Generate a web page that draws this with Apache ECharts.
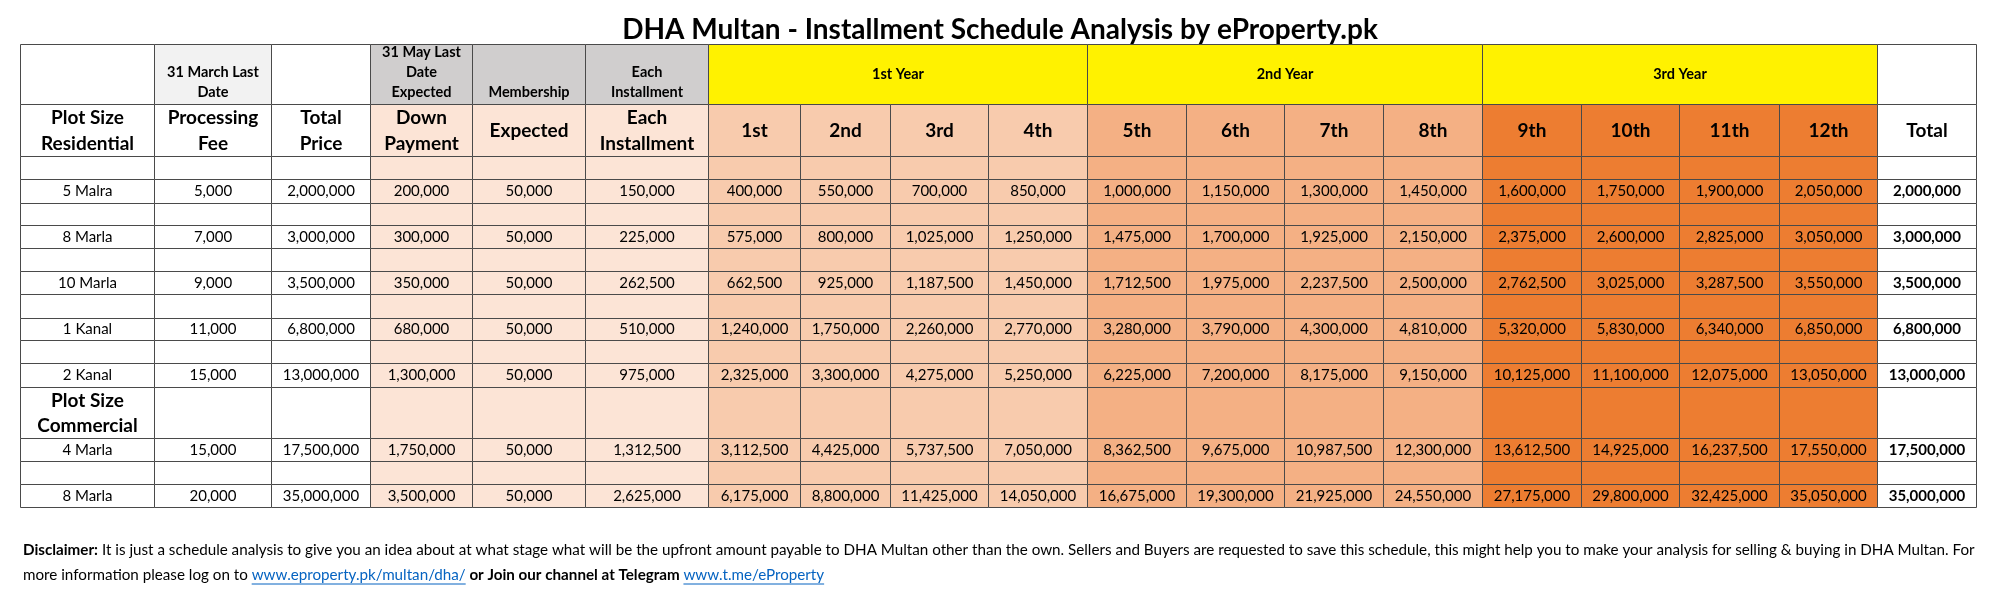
<!DOCTYPE html>
<html><head><meta charset="utf-8">
<script src="https://cdn.jsdelivr.net/npm/echarts@6/dist/echarts.min.js"></script>
<style>html,body{margin:0;padding:0;background:#fff}#c{width:2000px;height:595px}</style>
</head><body><div id="c"></div>
<script>
// ---------- data ----------
const titleText = 'DHA Multan - Installment Schedule Analysis by eProperty.pk';
const topHeaders = ['', '31 March Last\nDate', '', '31 May Last\nDate\nExpected', 'Membership', 'Each\nInstallment'];
const yearGroups = ['1st Year', '2nd Year', '3rd Year'];
const columnHeaders = ['Plot Size\nResidential','Processing\nFee','Total\nPrice','Down\nPayment','Expected','Each\nInstallment','1st','2nd','3rd','4th','5th','6th','7th','8th','9th','10th','11th','12th','Total'];
const sectionLabel = 'Plot Size\nCommercial';
const plotSizes = ['5 Malra','8 Marla','10 Marla','1 Kanal','2 Kanal','4 Marla','8 Marla'];
const processingFee = [5000,7000,9000,11000,15000,15000,20000];
const totalPrice = [2000000,3000000,3500000,6800000,13000000,17500000,35000000];
const downPayment = [200000,300000,350000,680000,1300000,1750000,3500000];
const membership = [50000,50000,50000,50000,50000,50000,50000];
const eachInstallment = [150000,225000,262500,510000,975000,1312500,2625000];
const inst5Malra = [400000,550000,700000,850000,1000000,1150000,1300000,1450000,1600000,1750000,1900000,2050000];
const inst8Marla = [575000,800000,1025000,1250000,1475000,1700000,1925000,2150000,2375000,2600000,2825000,3050000];
const inst10Marla = [662500,925000,1187500,1450000,1712500,1975000,2237500,2500000,2762500,3025000,3287500,3550000];
const inst1Kanal = [1240000,1750000,2260000,2770000,3280000,3790000,4300000,4810000,5320000,5830000,6340000,6850000];
const inst2Kanal = [2325000,3300000,4275000,5250000,6225000,7200000,8175000,9150000,10125000,11100000,12075000,13050000];
const inst4MarlaCom = [3112500,4425000,5737500,7050000,8362500,9675000,10987500,12300000,13612500,14925000,16237500,17550000];
const inst8MarlaCom = [6175000,8800000,11425000,14050000,16675000,19300000,21925000,24550000,27175000,29800000,32425000,35050000];
const totals = [2000000,3000000,3500000,6800000,13000000,17500000,35000000];
const disclaimerLine1 = 'It is just a schedule analysis to give you an idea about at what stage what will be the upfront amount payable to DHA Multan other than the own. Sellers and Buyers are requested to save this schedule, this might help you to make your analysis for selling & buying in DHA Multan. For';
const disclaimerLine2a = 'more information please log on to ';
const link1 = 'www.eproperty.pk/multan/dha/';
const disclaimerLine2b = ' or Join our channel at Telegram ';
const link2 = 'www.t.me/eProperty';

// ---------- layout / style ----------
const installmentRows = [inst5Malra, inst8Marla, inst10Marla, inst1Kanal, inst2Kanal, inst4MarlaCom, inst8MarlaCom];
const FONT = 'Lato';
const colW = [134,117,99,102,113,123,92,90,98,99,99,98,99,99,99,98,100,98,99];
const rowKinds = ['h1','h2','blank',0,'blank',1,'blank',2,'blank',3,'blank',4,'section',5,'blank',6];
const rowH = [60,52,23,24,22,23,23,23,24,22,23,24,51,23,23,23];
const colEdges = [0]; colW.forEach(w => colEdges.push(colEdges[colEdges.length-1] + w));
const rowEdges = [0]; rowH.forEach(h => rowEdges.push(rowEdges[rowEdges.length-1] + h));
const bodyFill = i => i <= 2 ? '#ffffff' : i <= 5 ? '#fce4d6' : i <= 9 ? '#f8cbad' : i <= 13 ? '#f4b084' : i <= 17 ? '#ed7d31' : '#ffffff';
const head1Fill = ['#ffffff','#f2f2f2','#ffffff','#d0cece','#d0cece','#d0cece'];
const fmt = n => n.toLocaleString('en-US');

const cells = [];
function addCell(c0, c1, r, text, fill, st) {
  cells.push({ value: [colEdges[c0], colEdges[c1], rowEdges[r], rowEdges[r+1]], text: text, fill: fill, st: st || {} });
}
rowKinds.forEach((kind, r) => {
  if (kind === 'h1') {
    topHeaders.forEach((t, i) => addCell(i, i+1, r, t, head1Fill[i], { size: 14.5, weight: 'bold', lh: 20, va: 'bottom' }));
    yearGroups.forEach((t, g) => addCell(6 + g*4, 10 + g*4, r, t, '#fff200', { size: 14.5, weight: 'bold', lh: 20 }));
    addCell(18, 19, r, '', '#ffffff');
  } else if (kind === 'h2') {
    columnHeaders.forEach((t, i) => addCell(i, i+1, r, t, bodyFill(i), { size: 19, weight: 'bold', lh: 26 }));
  } else if (kind === 'blank') {
    for (let i = 0; i < 19; i++) addCell(i, i+1, r, '', bodyFill(i));
  } else if (kind === 'section') {
    addCell(0, 1, r, sectionLabel, bodyFill(0), { size: 19, weight: 'bold', lh: 25 });
    for (let i = 1; i < 19; i++) addCell(i, i+1, r, '', bodyFill(i));
  } else {
    const k = kind;
    const vals = [plotSizes[k], fmt(processingFee[k]), fmt(totalPrice[k]), fmt(downPayment[k]), fmt(membership[k]), fmt(eachInstallment[k])]
      .concat(installmentRows[k].map(fmt)).concat([fmt(totals[k])]);
    vals.forEach((t, i) => addCell(i, i+1, r, t, bodyFill(i), { size: 15, weight: i === 18 ? 'bold' : 'normal', lh: 18 }));
  }
});

const chart = echarts.init(document.getElementById('c'), null, { renderer: 'canvas' });

// text measuring for underline placement
const mctx = document.createElement('canvas').getContext('2d');
function tw(str, weight, size) { mctx.font = (weight || 'normal') + ' ' + size + 'px ' + FONT; return mctx.measureText(str).width; }
const DS = 15.2;
const discLeft = 23;
const l2y = 575;
const u1x = discLeft + tw(disclaimerLine2a, 'normal', DS);
const u1w = tw(link1, 'normal', DS);
const u2x = u1x + u1w + tw(disclaimerLine2b, 'bold', DS);
const u2w = tw(link2, 'normal', DS);

chart.setOption({
  animation: false,
  title: { text: titleText, left: 'center', top: 11, textStyle: { fontFamily: FONT, fontWeight: 'bold', fontSize: 28, color: '#000' } },
  grid: { left: 20, right: 24, top: 44, bottom: 88 },
  xAxis: { type: 'value', min: 0, max: colEdges[colEdges.length-1], show: false },
  yAxis: { type: 'value', min: 0, max: rowEdges[rowEdges.length-1], inverse: true, show: false },
  series: [{
    type: 'custom',
    coordinateSystem: 'cartesian2d',
    data: cells.map(c => c.value),
    renderItem: function (params, api) {
      const c = cells[params.dataIndex];
      const p0 = api.coord([api.value(0), api.value(2)]);
      const p1 = api.coord([api.value(1), api.value(3)]);
      const x = Math.round(p0[0]) + 0.5, y = Math.round(p0[1]) + 0.5;
      const w = Math.round(p1[0]) - Math.round(p0[0]), h = Math.round(p1[1]) - Math.round(p0[1]);
      const children = [{ type: 'rect', shape: { x: x, y: y, width: w, height: h }, style: { fill: c.fill, stroke: '#4a4a4a', lineWidth: 1 } }];
      if (c.text) {
        const st = c.st;
        children.push({ type: 'text', style: {
          text: c.text, x: x + w / 2, y: st.va === 'bottom' ? y + h - 2 : y + h / 2,
          align: 'center', verticalAlign: st.va || 'middle',
          fontFamily: FONT, fontSize: st.size, fontWeight: st.weight, lineHeight: st.lh, fill: '#000'
        } });
      }
      return { type: 'group', children: children };
    }
  }],
  graphic: [
    { type: 'text', x: discLeft, y: 550, style: {
      text: '{b|Disclaimer:} ' + disclaimerLine1, verticalAlign: 'middle', fontFamily: FONT, fontSize: DS, fill: '#000',
      rich: { b: { fontFamily: FONT, fontSize: DS, fontWeight: 'bold', fill: '#000' } } } },
    { type: 'text', x: discLeft, y: l2y, style: {
      text: disclaimerLine2a + '{l|' + link1 + '}{b|' + disclaimerLine2b + '}{l|' + link2 + '}', verticalAlign: 'middle', fontFamily: FONT, fontSize: DS, fill: '#000',
      rich: { b: { fontFamily: FONT, fontSize: DS, fontWeight: 'bold', fill: '#000' }, l: { fontFamily: FONT, fontSize: DS, fontWeight: 'normal', fill: '#0563c1' } } } },
    { type: 'line', shape: { x1: u1x, y1: l2y + 9, x2: u1x + u1w, y2: l2y + 9 }, style: { stroke: '#0563c1', lineWidth: 1 } },
    { type: 'line', shape: { x1: u2x, y1: l2y + 9, x2: u2x + u2w, y2: l2y + 9 }, style: { stroke: '#0563c1', lineWidth: 1 } }
  ]
});
</script>
</body></html>
